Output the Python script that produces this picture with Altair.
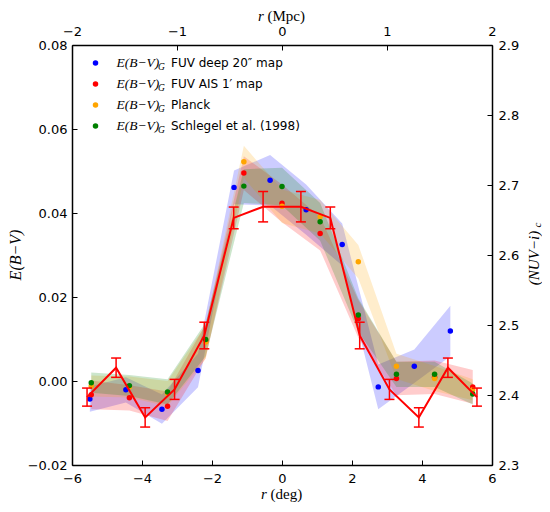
import altair as alt
import pandas as pd

# ---------------- data ----------------
# bin centres (deg) of the E(B-V) profiles
x_maps = [-5.45, -4.36, -3.27, -2.18, -1.09, 0.0, 1.09, 2.18, 3.27, 4.36, 5.45]
x_deep = [-5.49, -4.46, -3.43, -2.40, -1.37, -0.34, 0.69, 1.72, 2.75, 3.78, 4.81]

ebv_deep = [-0.0043, -0.0021, -0.0067, 0.0025, 0.0461, 0.0478, 0.0408, 0.0325, -0.0014, 0.0035, 0.0119]
ebv_ais = [-0.0033, -0.0040, -0.0060, 0.0095, 0.0495, 0.0423, 0.0351, 0.0148, 0.0006, 0.0009, -0.0014]
ebv_planck = [-0.0012, -0.0014, -0.0030, 0.0093, 0.0522, 0.0416, 0.0391, 0.0284, 0.0035, 0.0006, -0.0021]
ebv_sfd = [-0.0004, -0.0011, -0.0026, 0.0099, 0.0464, 0.0463, 0.0379, 0.0157, 0.0016, 0.0016, -0.0031]

err_deep = [0.0030, 0.0030, 0.0035, 0.0040, 0.0040, 0.0060, 0.0060, 0.0050, 0.0053, 0.0040, 0.0060]
err_ais = [0.0034, 0.0030, 0.0035, 0.0040, 0.0040, 0.0045, 0.0040, 0.0045, 0.0040, 0.0040, 0.0040]
err_planck = [0.0025, 0.0025, 0.0030, 0.0040, 0.0038, 0.0040, 0.0040, 0.0040, 0.0030, 0.0030, 0.0025]
err_sfd = [0.0024, 0.0025, 0.0030, 0.0040, 0.0040, 0.0045, 0.0045, 0.0040, 0.0030, 0.0030, 0.0025]

# (NUV-i)_c colour profile (right axis)
x_nuv = [-5.57, -4.74, -3.91, -3.07, -2.22, -1.38, -0.54, 0.54, 1.38, 2.22, 3.07, 3.91, 4.74, 5.57]
nuv_i = [2.397, 2.439, 2.368, 2.408, 2.485, 2.653, 2.669, 2.669, 2.653, 2.485, 2.408, 2.368, 2.439, 2.397]
nuv_err = [0.0129, 0.0138, 0.0138, 0.0143, 0.0190, 0.0155, 0.0217,
           0.0217, 0.0155, 0.0190, 0.0143, 0.0138, 0.0138, 0.0129]

series = ["deep", "ais", "planck", "sfd"]
legend_labels = ["FUV deep 20\u2033 map", "FUV AIS 1\u2032 map", "Planck", "Schlegel et al. (1998)"]
colors = ["#0000ff", "#ff0000", "#ffa500", "#008000"]

deg_ticks = [-6, -4, -2, 0, 2, 4, 6]
ebv_ticks = [-0.02, 0.0, 0.02, 0.04, 0.06, 0.08]
nuv_ticks = [2.3, 2.4, 2.5, 2.6, 2.7, 2.8, 2.9]
mpc_ticks = [-2, -1, 0, 1, 2]
deg_per_mpc = 3.0

# ---------------- tables ----------------
xs = {"deep": x_deep, "ais": x_maps, "planck": x_maps, "sfd": x_maps}
vals = {"deep": ebv_deep, "ais": ebv_ais, "planck": ebv_planck, "sfd": ebv_sfd}
errs = {"deep": err_deep, "ais": err_ais, "planck": err_planck, "sfd": err_sfd}
rows = []
for k, s in enumerate(series):
    for r, v, e in zip(xs[s], vals[s], errs[s]):
        rows.append({"series": s, "order": k, "r": r, "ebv": v, "lo": v - e, "hi": v + e})
df = pd.DataFrame(rows)

df_nuv = pd.DataFrame({"r": x_nuv, "v": nuv_i,
                       "lo": [v - e for v, e in zip(nuv_i, nuv_err)],
                       "hi": [v + e for v, e in zip(nuv_i, nuv_err)]})
df_top = pd.DataFrame({"r": [m * deg_per_mpc for m in mpc_ticks]})

W, H = 420, 420
INWARD = {"expr": "-5"}

axis_common = dict(domainColor="black", domainWidth=1.5, tickColor="black", tickWidth=1,
                   tickSize=INWARD, labelFont="DejaVu Sans", labelFontSize=13,
                   labelColor="black", grid=False, title=None, labelFlush=False,
                   labelOverlap=False)

xscale = alt.Scale(domain=[-6, 6], nice=False, zero=False)
yscale = alt.Scale(domain=[-0.02, 0.08], nice=False, zero=False)
x_axis = alt.Axis(orient="bottom", values=deg_ticks, format="d", labelPadding=12, **axis_common)
y_axis = alt.Axis(orient="left", values=ebv_ticks, format=".2f", labelPadding=10, **axis_common)

X = alt.X("r:Q", scale=xscale, axis=x_axis)
layers = []
for s, c in zip(series, colors):
    layers.append(
        alt.Chart(df).transform_filter(alt.datum.series == s)
        .mark_area(color=c, opacity=0.2, interpolate="linear")
        .encode(x=X, y=alt.Y("lo:Q", scale=yscale, axis=y_axis), y2="hi:Q")
    )
layers.append(
    alt.Chart(df).mark_circle(size=30, opacity=1)
    .encode(x=X, y=alt.Y("ebv:Q", scale=yscale, axis=y_axis),
            color=alt.Color("series:N", scale=alt.Scale(domain=series, range=colors), legend=None),
            order=alt.Order("order:Q"))
)

# custom legend (matplotlib-like, no frame)
for i, (lab, c) in enumerate(zip(legend_labels, colors)):
    yrow = 18 + 21 * i
    d = pd.DataFrame({"label": [lab]})
    layers.append(alt.Chart(d).mark_circle(size=30, color=c, opacity=1)
                  .encode(x=alt.value(23.5), y=alt.value(yrow)))
    layers.append(alt.Chart(d).mark_text(text="E(B\u2212V)", font="Liberation Serif", fontStyle="italic",
                                         fontSize=13.5, align="left", baseline="middle", color="black")
                  .encode(x=alt.value(44.5), y=alt.value(yrow)))
    layers.append(alt.Chart(d).mark_text(text="G", font="Liberation Serif", fontStyle="italic",
                                         fontSize=9.5, align="left", baseline="middle", color="black")
                  .encode(x=alt.value(86), y=alt.value(yrow + 4)))
    layers.append(alt.Chart(d).mark_text(font="DejaVu Sans", fontSize=12, align="left",
                                         baseline="middle", color="black")
                  .encode(x=alt.value(99), y=alt.value(yrow), text="label:N"))

# axis titles (mathtext-like)
tdf = pd.DataFrame({"k": [0]})
serif = "Liberation Serif"
layers += [
    alt.Chart(tdf).mark_text(text="r", font=serif, fontStyle="italic", fontSize=15, align="left",
                             baseline="middle", color="black").encode(x=alt.value(189), y=alt.value(H + 29)),
    alt.Chart(tdf).mark_text(text="(deg)", font=serif, fontSize=15, align="left",
                             baseline="middle", color="black").encode(x=alt.value(198.5), y=alt.value(H + 29)),
    alt.Chart(tdf).mark_text(text="r", font=serif, fontStyle="italic", fontSize=15, align="left",
                             baseline="middle", color="black").encode(x=alt.value(186), y=alt.value(-29)),
    alt.Chart(tdf).mark_text(text="(Mpc)", font=serif, fontSize=15, align="left",
                             baseline="middle", color="black").encode(x=alt.value(195.5), y=alt.value(-29)),
    alt.Chart(tdf).mark_text(text="E(B\u2212V)", font=serif, fontStyle="italic", fontSize=16, angle=270,
                             align="center", baseline="middle", color="black")
    .encode(x=alt.value(-56), y=alt.value(H / 2)),
    alt.Chart(tdf).mark_text(text="(NUV\u2212i)", font=serif, fontStyle="italic", fontSize=15, angle=270,
                             align="center", baseline="middle", color="black")
    .encode(x=alt.value(W + 42), y=alt.value(H / 2 + 3)),
    alt.Chart(tdf).mark_text(text="c", font=serif, fontStyle="italic", fontSize=11, angle=270,
                             align="center", baseline="middle", color="black")
    .encode(x=alt.value(W + 46), y=alt.value(H / 2 - 30)),
]
main = alt.layer(*layers)

# red (NUV-i)_c profile with error bars, right axis
Xr = alt.X("r:Q", scale=xscale, axis=None)
nuv_scale = alt.Scale(domain=[2.3, 2.9], nice=False, zero=False)
nuv_axis = alt.Axis(orient="right", values=nuv_ticks, format=".1f", labelPadding=11, **axis_common)
red = alt.layer(
    alt.Chart(df_nuv).mark_line(color="#ff0000", strokeWidth=2)
    .encode(x=Xr, y=alt.Y("v:Q", scale=nuv_scale, axis=nuv_axis)),
    alt.Chart(df_nuv).mark_rule(color="#ff0000", strokeWidth=1.5)
    .encode(x=Xr, y=alt.Y("lo:Q", scale=nuv_scale, axis=nuv_axis), y2="hi:Q"),
    alt.Chart(df_nuv).mark_tick(color="#ff0000", orient="horizontal", size=10, thickness=1.5, opacity=1)
    .encode(x=Xr, y=alt.Y("lo:Q", scale=nuv_scale, axis=nuv_axis)),
    alt.Chart(df_nuv).mark_tick(color="#ff0000", orient="horizontal", size=10, thickness=1.5, opacity=1)
    .encode(x=Xr, y=alt.Y("hi:Q", scale=nuv_scale, axis=nuv_axis)),
)

# top axis in Mpc
top_axis = alt.Axis(orient="top", values=[m * deg_per_mpc for m in mpc_ticks],
                    labelExpr=f"format(datum.value / {deg_per_mpc}, 'd')", labelPadding=12, **axis_common)
top = alt.Chart(df_top).mark_point(opacity=0).encode(x=alt.X("r:Q", scale=xscale, axis=top_axis))

chart = (
    alt.layer(main, red, top)
    .resolve_scale(y="independent")
    .resolve_axis(x="independent", y="independent")
    .properties(width=W, height=H, autosize=alt.AutoSizeParams(type="none"),
                padding={"left": 64, "top": 37, "right": 50, "bottom": 39})
    .configure_view(stroke="black", strokeWidth=1.5)
    .configure(background="white")
)

chart.save("out.html", embed_options={"renderer": "svg", "actions": False})
